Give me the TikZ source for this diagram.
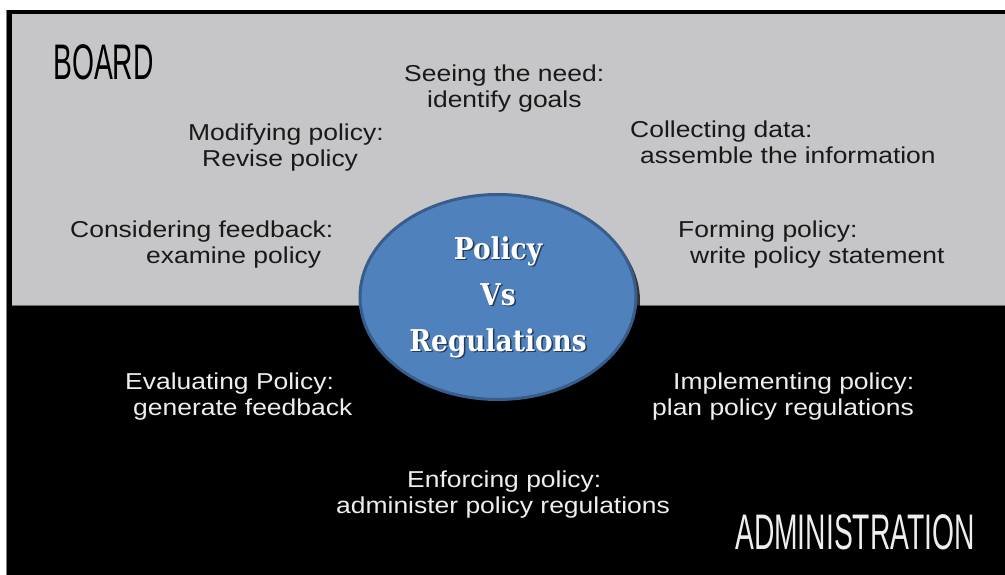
\documentclass[tikz,border=0pt]{standalone}
\usepackage{fontspec}
\setmainfont{Liberation Sans}[FakeStretch=1.15]
\newfontfamily\titlefont{DejaVu Serif}[FakeStretch=0.88]
\newfontfamily\bandfont{Liberation Sans}[FakeStretch=0.565]
\usetikzlibrary{shapes.geometric,shadows}
\definecolor{panelgray}{RGB}{198,198,200}
\definecolor{ellfill}{RGB}{79,129,189}
\definecolor{elldraw}{RGB}{56,93,138}
\definecolor{darktext}{RGB}{25,25,25}
\definecolor{lighttext}{RGB}{238,238,238}
\begin{document}
\begin{tikzpicture}[x=1pt,y=-1pt,
  stagedark/.style={font=\fontsize{23}{26}\selectfont, text=darktext, align=left, anchor=base west, inner sep=0pt},
  stagelight/.style={stagedark, text=lighttext},
  bandtext/.style={font=\bandfont\fontsize{50}{50}\selectfont, anchor=base west, inner sep=0pt},
  titletext/.style={font=\titlefont\bfseries\fontsize{30}{46}\selectfont, align=center, inner sep=0pt}]
\useasboundingbox (0,0) rectangle (1005,575);
% frame and panels
\fill[black] (7,10) rectangle (1005,575);
\draw[gray, line width=1pt] (6.5,10) -- (6.5,575);
\fill[panelgray] (12,14) rectangle (1005,305);
\draw[gray!85!black, line width=1pt] (12,305) -- (1005,305);
% band titles
\node[bandtext, text=black] (board) at (53,80) {BOARD};
\node[bandtext, text=lighttext] (admin) at (735,549) {ADMINISTRATION};
% stages (anchor is the baseline of the last line)
\node[stagedark] (need) at (404,108) {Seeing the need:\\\hspace*{23pt}identify goals};
\node[stagedark] (modify) at (188,167) {Modifying policy:\\\hspace*{14pt}Revise policy};
\node[stagedark] (collect) at (630,164) {Collecting data:\\\hspace*{10pt}assemble the information};
\node[stagedark] (form) at (678,263) {Forming policy:\\\hspace*{12pt}write policy statement};
\node[stagedark] (consider) at (70,263) {Considering feedback:\\\hspace*{76pt}examine policy};
\node[stagelight] (evaluate) at (125,415) {Evaluating Policy:\\\hspace*{8pt}generate feedback};
\node[stagelight] (implement) at (652,415) {\hspace*{21pt}Implementing policy:\\plan policy regulations};
\node[stagelight] (enforce) at (336,513) {\hspace*{71pt}Enforcing policy:\\administer policy regulations};
% centre ellipse
\node[ellipse, minimum width=276pt, minimum height=205pt, fill=ellfill, draw=elldraw, line width=3pt,
  drop shadow={shadow xshift=4pt, shadow yshift=-4pt, fill=black, opacity=0.75}] (pvr) at (498,297) {};
\node[titletext, text=black, opacity=0.55] (pvrshadow) at ([xshift=1.5pt,yshift=-1.5pt]pvr.center) {Policy\\Vs\\Regulations};
\node[titletext, text=white] (pvrtext) at (pvr.center) {Policy\\Vs\\Regulations};
\end{tikzpicture}
\end{document}
